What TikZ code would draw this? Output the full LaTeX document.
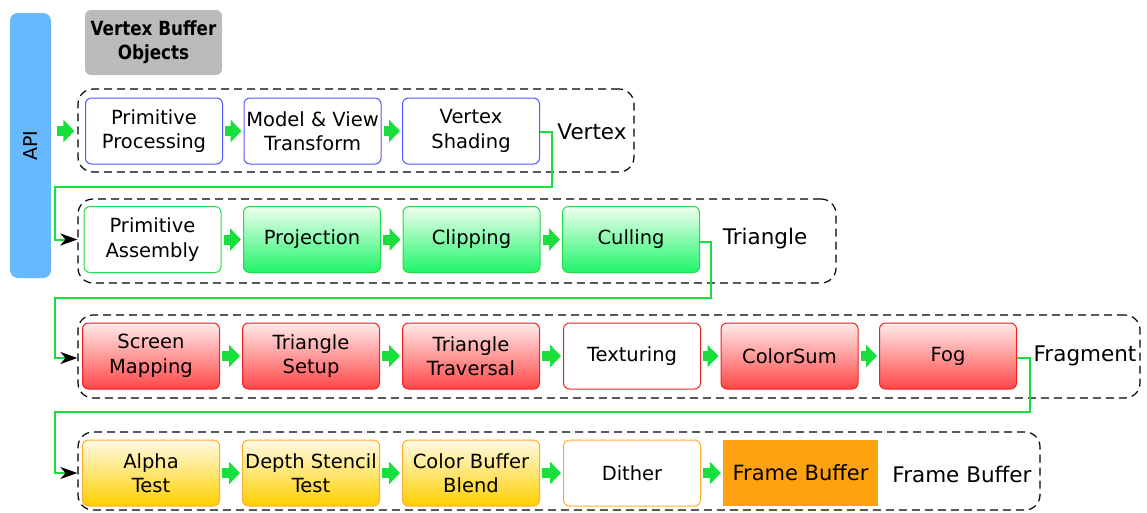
\documentclass[tikz,border=0pt]{standalone}
\usepackage{fontspec}
\setmainfont{DejaVu Sans}
\newfontfamily\vbofont[FakeStretch=0.86]{DejaVu Sans Bold}
\usetikzlibrary{arrows.meta}
\definecolor{apiblue}{HTML}{66B8FF}
\definecolor{vbogray}{HTML}{BBBBBB}
\definecolor{flowgreen}{HTML}{18DF3C}
\definecolor{bblue}{HTML}{5555FF}
\definecolor{bgreen}{HTML}{22DD44}
\definecolor{bred}{HTML}{EE2222}
\definecolor{borange}{HTML}{FFAA33}
\definecolor{fbfill}{HTML}{FFA210}
\tikzset{
  x=1pt, y=-1pt,
  stage/.style={rounded corners=6pt, minimum width=137pt, minimum height=66pt,
    align=center, inner sep=0pt, line width=1pt,
    font=\fontsize{19.5}{24.5}\selectfont},
  bluebox/.style={stage, draw=bblue, fill=white},
  greenwhite/.style={stage, draw=bgreen, fill=white},
  greenbox/.style={stage, draw=bgreen, top color=green!6!white, bottom color={rgb,255:red,30;green,245;blue,105}},
  redwhite/.style={stage, draw=bred, fill=white},
  redbox/.style={stage, draw=bred, top color={rgb,255:red,255;green,235;blue,235}, bottom color={rgb,255:red,255;green,70;blue,70}},
  orangewhite/.style={stage, draw=borange, fill=white},
  orangebox/.style={stage, draw=borange, top color={rgb,255:red,255;green,250;blue,228}, bottom color={rgb,255:red,255;green,208;blue,0}},
  group/.style={draw=black, dash pattern=on 8pt off 5pt, line width=1.2pt, rounded corners=15pt, inner sep=0pt},
  grouplabel/.style={font=\fontsize{21.5}{26}\selectfont, inner sep=0pt},
  garrow/.style={draw=flowgreen, line width=10pt, -{Triangle[length=11pt,width=22pt]}, shorten <=2pt, shorten >=2pt},
  flow/.style={draw=flowgreen, line width=2pt, -{Stealth[color=black,length=17pt,width=12pt,inset=5pt]}},
}
\begin{document}
\begin{tikzpicture}
\useasboundingbox (0,0) rectangle (1147,512);
% API and VBO
\node[fill=apiblue, rounded corners=8pt, minimum width=41pt, minimum height=265pt, inner sep=0pt] (api) at (30.5,145.5) {};
\node[rotate=90, font=\fontsize{19}{23}\selectfont] (apit) at (api.center) {API};
\node[fill=vbogray, rounded corners=6pt, minimum width=137pt, minimum height=65pt, inner sep=0pt, align=center, font=\fontsize{19.5}{24}\vbofont] (vbo) at (153.5,42.5) {Vertex Buffer\\Objects};

% groups
\node[group, minimum width=556pt, minimum height=83pt] (vg) at (356,130.5) {};
\node[group, minimum width=758pt, minimum height=84pt] (tg) at (457,241) {};
\node[group, minimum width=1062pt, minimum height=83pt] (fg) at (609,356.5) {};
\node[group, minimum width=962pt, minimum height=78pt] (bg) at (559,471) {};

% vertex row
\node[bluebox] (pp) at (154,131) {Primitive\\Processing};
\node[bluebox] (mv) at (312.5,131) {Model \& View\\Transform};
\node[bluebox] (vs) at (471,131) {Vertex\\Shading};
\node[grouplabel] (vl) at (592,132) {Vertex};

% triangle row
\node[greenwhite] (pa) at (152.5,239.5) {Primitive\\Assembly};
\node[greenbox] (pr) at (312,239.5) {Projection};
\node[greenbox] (cl) at (471.5,239.5) {Clipping};
\node[greenbox] (cu) at (631,239.5) {Culling};
\node[grouplabel] (tl) at (765,238.5) {Triangle};

% fragment row
\node[redbox] (sm) at (151,356) {Screen\\Mapping};
\node[redbox] (ts) at (311,356) {Triangle\\Setup};
\node[redbox] (tt) at (471,356) {Triangle\\Traversal};
\node[redwhite] (tx) at (632,356) {Texturing};
\node[redbox] (cs) at (789.5,356) {ColorSum};
\node[redbox] (fo) at (948,356) {Fog};
\node[grouplabel] (fl) at (1085,356) {Fragment};

% frame buffer row
\node[orangebox] (at) at (151,473) {Alpha\\Test};
\node[orangebox] (ds) at (311,473) {Depth Stencil\\Test};
\node[orangebox] (cb) at (471,473) {Color Buffer\\Blend};
\node[orangewhite] (di) at (632,473) {Dither};
\node[fill=fbfill, minimum width=155pt, minimum height=66pt, inner sep=0pt, font=\fontsize{21}{25}\selectfont] (fb) at (800.5,473) {Frame Buffer};
\node[grouplabel] (bl) at (962,474) {Frame Buffer};

% green block arrows
\draw[garrow, shorten <=6pt, shorten >=3pt] (api.east |- pp) -- (vg.west |- pp);
\draw[garrow] (pp) -- (mv);
\draw[garrow] (mv) -- (vs);
\draw[garrow] (pa) -- (pr);
\draw[garrow] (pr) -- (cl);
\draw[garrow] (cl) -- (cu);
\draw[garrow] (sm) -- (ts);
\draw[garrow] (ts) -- (tt);
\draw[garrow] (tt) -- (tx);
\draw[garrow] (tx) -- (cs);
\draw[garrow] (cs) -- (fo);
\draw[garrow] (at) -- (ds);
\draw[garrow] (ds) -- (cb);
\draw[garrow] (cb) -- (di);
\draw[garrow] (di) -- (fb);

% row-to-row connectors
\coordinate (v1) at (552,187);
\draw[flow] ([yshift=-1pt]vs.east) -| (v1) -| (55,239.5) -- (tg.west |- pa);
\coordinate (t1) at (711,298);
\draw[flow] ([yshift=-2.5pt]cu.east) -| (t1) -| (55,358) -- (fg.west |- 0,358);
\coordinate (f1) at (1030,412);
\draw[flow] ([yshift=-2pt]fo.east) -| (f1) -| (55,473) -- (bg.west |- at);
\end{tikzpicture}
\end{document}
